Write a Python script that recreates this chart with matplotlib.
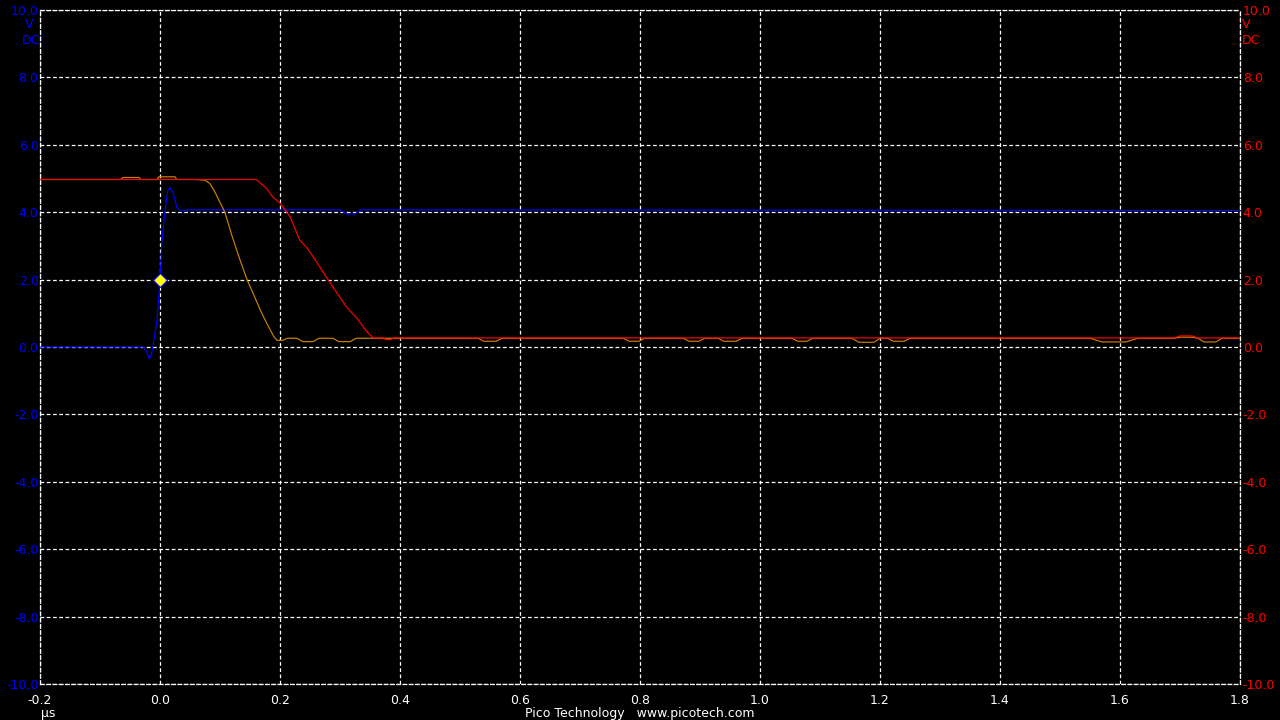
import matplotlib
matplotlib.use("Agg")
import matplotlib.pyplot as plt

# ---- data (time in µs, volts) ----
blue_t = [-0.2, -0.028, -0.022, -0.018, -0.014, -0.012, -0.005, 0.0, 0.003, 0.008,
          0.013, 0.017, 0.022, 0.028, 0.033, 0.05, 0.30, 0.31, 0.325, 0.335, 1.8]
blue_v = [0.0, 0.0, -0.15, -0.35, -0.2, 0.0, 0.8, 2.0, 3.1, 4.0,
          4.65, 4.72, 4.57, 4.15, 4.05, 4.07, 4.07, 3.95, 3.95, 4.07, 4.05]

orange_t = [-0.2, -0.065, -0.062, -0.035, -0.032, -0.005, -0.002, 0.025, 0.028, 0.06,
            0.075, 0.083, 0.09, 0.097, 0.108, 0.12, 0.133, 0.145, 0.155, 0.167,
            0.178, 0.19, 0.195, 0.205, 0.212, 0.228, 0.238, 0.245, 0.255, 0.265,
            0.272, 0.288, 0.298, 0.305, 0.317, 0.327,
            0.53, 0.54, 0.56, 0.57, 0.772, 0.782, 0.798, 0.808,
            0.872, 0.882, 0.898, 0.908, 0.93, 0.94, 0.96, 0.97,
            1.053, 1.063, 1.078, 1.088, 1.153, 1.165, 1.19, 1.2,
            1.213, 1.222, 1.24, 1.25, 1.55, 1.57, 1.61, 1.63,
            1.69, 1.70, 1.72, 1.73, 1.74, 1.76, 1.77, 1.8]
orange_v = [4.97, 4.97, 5.03, 5.03, 4.97, 4.97, 5.05, 5.05, 4.97, 4.97,
            4.95, 4.85, 4.65, 4.4, 4.0, 3.3, 2.6, 2.0, 1.6, 1.1,
            0.7, 0.3, 0.2, 0.2, 0.26, 0.26, 0.16, 0.16, 0.16, 0.26,
            0.26, 0.26, 0.16, 0.16, 0.16, 0.26,
            0.26, 0.17, 0.17, 0.26, 0.26, 0.17, 0.17, 0.26,
            0.26, 0.17, 0.17, 0.26, 0.26, 0.17, 0.17, 0.26,
            0.26, 0.17, 0.17, 0.26, 0.26, 0.14, 0.14, 0.26,
            0.26, 0.17, 0.17, 0.26, 0.26, 0.15, 0.15, 0.26,
            0.26, 0.29, 0.29, 0.26, 0.15, 0.15, 0.26, 0.26]

red_t = [-0.2, 0.158, 0.162, 0.178, 0.188, 0.2, 0.205, 0.217, 0.228, 0.233,
         0.245, 0.262, 0.278, 0.295, 0.312, 0.328, 0.345, 0.355, 0.373, 0.376,
         0.385, 0.388, 1.69, 1.70, 1.72, 1.73, 1.8]
red_v = [4.97, 4.97, 4.95, 4.7, 4.45, 4.27, 4.15, 3.86, 3.38, 3.17,
         2.94, 2.5, 2.05, 1.6, 1.16, 0.86, 0.45, 0.27, 0.27, 0.22,
         0.22, 0.27, 0.27, 0.33, 0.33, 0.27, 0.27]

marker_t = [0.0]
marker_v = [2.0]

x_ticks = [-0.2, 0.0, 0.2, 0.4, 0.6, 0.8, 1.0, 1.2, 1.4, 1.6, 1.8]
x_labels = ["-0.2", "0.0", "0.2", "0.4", "0.6", "0.8", "1.0", "1.2", "1.4", "1.6", "1.8"]
y_ticks = [-10, -8, -6, -4, -2, 0, 2, 4, 6, 8, 10]
y_labels = ["-10.0", "-8.0", "-6.0", "-4.0", "-2.0", "0.0", "2.0", "4.0", "6.0", "8.0", "10.0"]

BLUE = "#0000ff"
RED = "#ff0000"
ORANGE = "#d08000"
DASH = (0, (3, 2))

fig = plt.figure(figsize=(12.8, 7.2), dpi=100, facecolor="black")
ax = fig.add_axes([40 / 1280, 36 / 720, 1200 / 1280, 674 / 720])
ax.set_facecolor("black")
ax.set_xlim(-0.2, 1.8)
ax.set_ylim(-10, 10)

for s in ax.spines.values():
    s.set_color("white")
    s.set_linestyle(DASH)
    s.set_linewidth(0.9)

ax.set_xticks(x_ticks)
ax.set_xticklabels(x_labels, color="white", fontsize=9)
ax.set_yticks(y_ticks)
ax.set_yticklabels(y_labels, color=BLUE, fontsize=9)
ax.tick_params(axis="both", length=0)
ax.tick_params(axis="x", pad=7)
ax.tick_params(axis="y", pad=1)
ax.grid(True, color="white", linestyle=DASH, linewidth=0.9)

ax.plot(blue_t, blue_v, color=BLUE, lw=0.85, zorder=3)
ax.plot(orange_t, orange_v, color=ORANGE, lw=0.85, zorder=4)
ax.plot(red_t, red_v, color=RED, lw=0.85, zorder=5)
ax.plot(marker_t, marker_v, linestyle="none", marker="D", markersize=7,
        markerfacecolor="#ffff00", markeredgecolor=BLUE, markeredgewidth=0.8,
        zorder=6, clip_on=False)

ax2 = ax.twinx()
ax2.set_ylim(-10, 10)
ax2.set_yticks(y_ticks)
ax2.set_yticklabels(y_labels, color=RED, fontsize=9)
ax2.tick_params(axis="y", length=0, pad=2)
for s in ax2.spines.values():
    s.set_visible(False)

# unit labels
fig.text(29 / 1280, 1 - 25 / 720, "V", color=BLUE, fontsize=9, ha="center", va="center")
fig.text(40 / 1280, 1 - 41 / 720, "DC", color=BLUE, fontsize=9, ha="right", va="center")
fig.text(1242 / 1280, 1 - 25 / 720, "V", color=RED, fontsize=9, ha="left", va="center")
fig.text(1242 / 1280, 1 - 41 / 720, "DC", color=RED, fontsize=9, ha="left", va="center")
fig.text(41 / 1280, 1 - 714 / 720, "µs", color="white", fontsize=9, ha="left", va="center")
fig.text(640 / 1280, 1 - 713 / 720, "Pico Technology   www.picotech.com", color="white",
         fontsize=9, ha="center", va="center")

fig.savefig("out.png", dpi=100, facecolor="black")
